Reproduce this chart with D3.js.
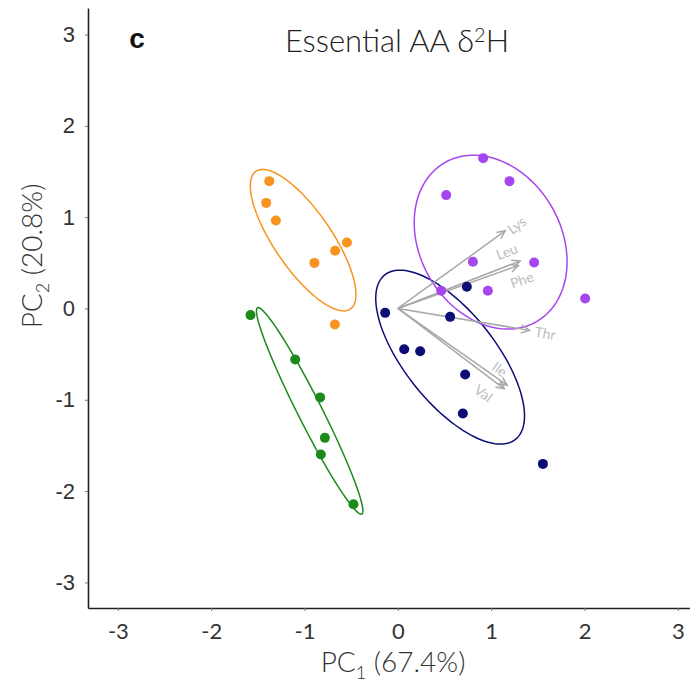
<!DOCTYPE html>
<html>
<head>
<meta charset="utf-8">
<style>
  body { margin: 0; background: #fff; }
</style>
</head>
<body>
<div id="biplot"></div>
<script src="https://d3js.org/d3.v7.min.js"></script>
<script>
// scores per group (PC1, PC2)
var orangeX = [-1.378, -1.411, -1.307, -0.546, -0.672, -0.894, -0.675];
var orangeY = [1.394, 1.156, 0.964, 0.723, 0.631, 0.499, -0.175];
var greenX = [-1.579, -1.100, -0.833, -0.782, -0.825, -0.476];
var greenY = [-0.073, -0.558, -0.974, -1.417, -1.599, -2.143];
var navyX = [-0.136, 0.068, 0.239, 0.560, 0.739, 0.721, 0.696, 1.554];
var navyY = [-0.048, -0.446, -0.468, -0.092, 0.237, -0.723, -1.150, -1.702];
var purpleX = [0.914, 1.196, 0.518, 0.804, 1.460, 0.464, 0.964, 2.007];
var purpleY = [1.646, 1.394, 1.241, 0.512, 0.504, 0.193, 0.193, 0.109];

// ellipses: center, half axes, angle (deg) in data units
var groupNames = ["orange", "green", "navy", "purple"];
var ellCx = [-1.015, -0.945, 0.560, 0.994];
var ellCy = [0.748, -1.122, -0.533, 0.726];
var ellA = [0.908, 1.26, 1.141, 1.0];
var ellB = [0.31, 0.13, 0.49, 0.76];
var ellAngle = [-56.3, -63.7, -52.4, -62];

// loadings
var loadNames = ["Lys", "Leu", "Phe", "Thr", "Ile", "Val"];
var loadX = [1.150, 1.31, 1.29, 1.41, 1.17, 1.14];
var loadY = [0.85, 0.52, 0.47, -0.24, -0.84, -0.88];
var labelX = [1.275, 1.168, 1.329, 1.578, 1.089, 0.917];
var labelY = [0.91, 0.62, 0.31, -0.274, -0.668, -0.93];

var xTicks = [-3, -2, -1, 0, 1, 2, 3];
var yTicks = [-3, -2, -1, 0, 1, 2, 3];

var colors = {orange: "#f7931e", green: "#1b8a1b", navy: "#0d0d78", purple: "#a646ee"};

var W = 690, H = 683;
var margin = {top: 8, right: 0, bottom: 75, left: 88};

var svg = d3.select("#biplot").append("svg")
    .attr("width", W)
    .attr("height", H);

var x = d3.scaleLinear().domain([-3.32, 3.13]).range([margin.left, W - margin.right]);
var y = d3.scaleLinear().domain([-3.28, 3.29]).range([H - margin.bottom, margin.top]);

// axes
var xAxis = svg.append("g")
    .attr("transform", "translate(0," + (H - margin.bottom) + ")")
    .call(d3.axisBottom(x).tickValues(xTicks).tickSize(3).tickPadding(12).tickSizeOuter(0));
xAxis.select(".domain").attr("stroke", "#222").attr("stroke-width", 1.6);
xAxis.selectAll(".tick line").attr("stroke", "#777");
xAxis.selectAll(".tick text")
    .style("font-family", "Lato")
    .style("font-size", "22px")
    .attr("fill", "#333")
    .text(function(d) { return d; });

var yAxis = svg.append("g")
    .attr("transform", "translate(" + margin.left + ",0)")
    .call(d3.axisLeft(y).tickValues(yTicks).tickSize(3).tickPadding(10).tickSizeOuter(0));
yAxis.select(".domain").attr("stroke", "#222").attr("stroke-width", 1.6);
yAxis.selectAll(".tick line").attr("stroke", "#777");
yAxis.selectAll(".tick text")
    .style("font-family", "Liberation Sans")
    .style("font-size", "22px")
    .attr("fill", "#333")
    .text(function(d) { return d; });

// ellipses
var ellLine = d3.line().x(function(d) { return x(d[0]); }).y(function(d) { return y(d[1]); });
groupNames.forEach(function(g, i) {
  var th = ellAngle[i] * Math.PI / 180;
  var pts = d3.range(0, 361, 3).map(function(deg) {
    var t = deg * Math.PI / 180;
    var u = ellA[i] * Math.cos(t), v = ellB[i] * Math.sin(t);
    return [ellCx[i] + u * Math.cos(th) - v * Math.sin(th),
            ellCy[i] + u * Math.sin(th) + v * Math.cos(th)];
  });
  svg.append("path")
      .attr("d", ellLine(pts))
      .attr("fill", "none")
      .attr("stroke", colors[g])
      .attr("stroke-width", 1.5);
});

// arrows
var arrowCol = "#a8a8a8";
loadNames.forEach(function(n, i) {
  var x0 = x(0), y0 = y(0), x1 = x(loadX[i]), y1 = y(loadY[i]);
  var ang = Math.atan2(y1 - y0, x1 - x0);
  svg.append("line")
      .attr("x1", x0).attr("y1", y0).attr("x2", x1).attr("y2", y1)
      .attr("stroke", arrowCol).attr("stroke-width", 1.5);
  var hl = 9, ha = 0.45;
  svg.append("path")
      .attr("d", "M" + (x1 - hl * Math.cos(ang - ha)) + "," + (y1 - hl * Math.sin(ang - ha)) +
                 "L" + x1 + "," + y1 +
                 "L" + (x1 - hl * Math.cos(ang + ha)) + "," + (y1 - hl * Math.sin(ang + ha)))
      .attr("fill", "none").attr("stroke", arrowCol).attr("stroke-width", 1.5);
  svg.append("text")
      .attr("transform", "translate(" + x(labelX[i]) + "," + y(labelY[i]) + ") rotate(" + (ang * 180 / Math.PI) + ")")
      .attr("text-anchor", "middle")
      .attr("dy", "0.35em")
      .style("font-family", "Lato")
      .style("font-size", "14px")
      .attr("fill", "#bdbdbd")
      .text(n);
});

// points
var groupX = [orangeX, greenX, navyX, purpleX];
var groupY = [orangeY, greenY, navyY, purpleY];
groupNames.forEach(function(g, i) {
  svg.append("g").selectAll("circle")
    .data(groupX[i].map(function(v, j) { return [v, groupY[i][j]]; }))
    .enter().append("circle")
      .attr("cx", function(d) { return x(d[0]); })
      .attr("cy", function(d) { return y(d[1]); })
      .attr("r", 5)
      .attr("fill", colors[g]);
});

// titles
svg.append("text")
    .attr("x", 137).attr("y", 48)
    .attr("text-anchor", "middle")
    .style("font-family", "Liberation Sans")
    .style("font-weight", "bold")
    .style("font-size", "28px")
    .attr("fill", "#111")
    .text("c");

var title = svg.append("text")
    .attr("x", 397).attr("y", 52)
    .attr("text-anchor", "middle")
    .style("font-family", "Lato")
    .style("font-weight", "300")
    .style("font-size", "31px")
    .attr("fill", "#222");
title.append("tspan").text("Essential AA \u03B4");
title.append("tspan").attr("dy", -10).style("font-size", "20px").text("2");
title.append("tspan").attr("dy", 10).text("H");

var xl = svg.append("text")
    .attr("x", 393).attr("y", 672)
    .attr("text-anchor", "middle")
    .style("font-family", "Lato")
    .style("font-weight", "300")
    .style("font-size", "28px")
    .attr("fill", "#333");
xl.append("tspan").text("PC");
xl.append("tspan").attr("dy", 7).style("font-size", "18px").text("1");
xl.append("tspan").attr("dy", -7).text(" (67.4%)");

var yl = svg.append("text")
    .attr("transform", "translate(42,256) rotate(-90)")
    .attr("text-anchor", "middle")
    .style("font-family", "Lato")
    .style("font-weight", "300")
    .style("font-size", "28px")
    .attr("fill", "#333");
yl.append("tspan").text("PC");
yl.append("tspan").attr("dy", 7).style("font-size", "18px").text("2");
yl.append("tspan").attr("dy", -7).text(" (20.8%)");
</script>
</body>
</html>
